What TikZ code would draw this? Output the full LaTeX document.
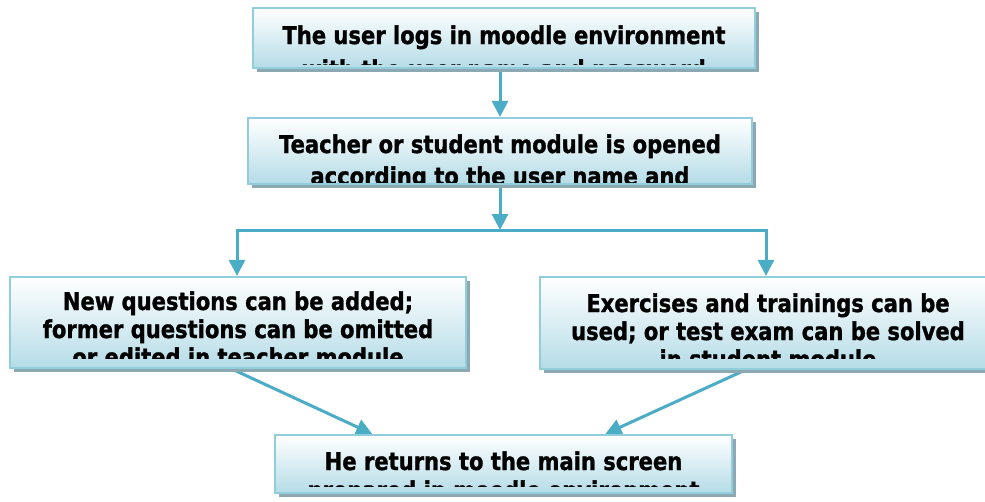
\documentclass[tikz,border=0pt]{standalone}
\usepackage{fontspec}
\newfontfamily\boxfont{DejaVu Sans}[FakeStretch=0.86,FakeBold=1.2]
\usetikzlibrary{arrows.meta,shadows,calc}
\definecolor{arrowc}{RGB}{75,172,198}
\definecolor{borderc}{RGB}{146,205,220}
\definecolor{fillbot}{RGB}{181,220,231}
\definecolor{shadowc}{RGB}{140,168,178}
\pgfdeclarelayer{bg}
\pgfsetlayers{bg,main}
\begin{document}
\begin{tikzpicture}[x=1pt,y=-1pt,
  box/.style={draw=borderc, line width=2.2pt, shading=axis, top color=white, bottom color=fillbot,
    drop shadow={shadow xshift=3.5pt, shadow yshift=-4pt, fill=shadowc, opacity=1}, inner sep=0pt},
  txt/.style={font=\boxfont\bfseries\fontsize{24.5}{28}\selectfont, inner sep=0pt, anchor=base},
  conn/.style={draw=arrowc, line width=3pt},
  arr/.style={conn, -{Triangle[width=16pt,length=16pt]}}]
\useasboundingbox (0,0) rectangle (985,501);
\clip (0,0) rectangle (985,501);

% boxes
\node[box, minimum width=502pt, minimum height=60pt] (b1) at (504,38) {};
\begin{scope}
  \clip (253,8) rectangle (755,64);
  \node[txt] (t1a) at (504,44) {The user logs in moodle environment};
  \node[txt] (t1b) at (504,78) {with the user name and password};
\end{scope}

\node[box, minimum width=504pt, minimum height=66pt] (b2) at (500,151) {};
\begin{scope}
  \clip (248,118) rectangle (752,182);
  \node[txt] (t2a) at (500,153) {Teacher or student module is opened};
  \node[txt] (t2b) at (500,185) {according to the user name and};
\end{scope}

\node[box, minimum width=456pt, minimum height=91pt] (b3) at (238,322.5) {};
\begin{scope}
  \clip (10,277) rectangle (466,358);
  \node[txt] (t3a) at (238,310) {New questions can be added;};
  \node[txt] (t3b) at (238,338) {former questions can be omitted};
  \node[txt] (t3c) at (238,366) {or edited in teacher module};
\end{scope}

\node[box, minimum width=456pt, minimum height=92pt] (b4) at (768,323) {};
\begin{scope}
  \clip (540,277) rectangle (996,358);
  \node[txt] (t4a) at (768,312) {Exercises and trainings can be};
  \node[txt] (t4b) at (768,340) {used; or test exam can be solved};
  \node[txt] (t4c) at (768,368) {in student module};
\end{scope}

\node[box, minimum width=457pt, minimum height=58pt] (b5) at (503.5,464) {};
\begin{scope}
  \clip (275,435) rectangle (732,486);
  \node[txt] (t5a) at (503.5,470) {He returns to the main screen};
  \node[txt] (t5b) at (503.5,499) {prepared in moodle environment};
\end{scope}

% connectors
\begin{pgfonlayer}{bg}
  \coordinate (jl) at (237,230);
  \coordinate (jr) at (766,230);
  \coordinate (jm) at (b2.south |- jl);
  \draw[arr] (b2.north |- b1.south) -- (b2.north);
  \draw[arr] (b2.south) -- (jm);
  \draw[arr] (jm) -| (jl |- b3.north);
  \draw[arr] (jm) -| (jr |- b4.north);
  \draw[arr] ($(b3.south west)!0.487!(b3.south east)$) -- ($(b5.north west)!0.214!(b5.north east)$);
  \draw[arr] ($(b4.south west)!0.45!(b4.south east)$) -- ($(b5.north west)!0.722!(b5.north east)$);
\end{pgfonlayer}
\end{tikzpicture}
\end{document}
